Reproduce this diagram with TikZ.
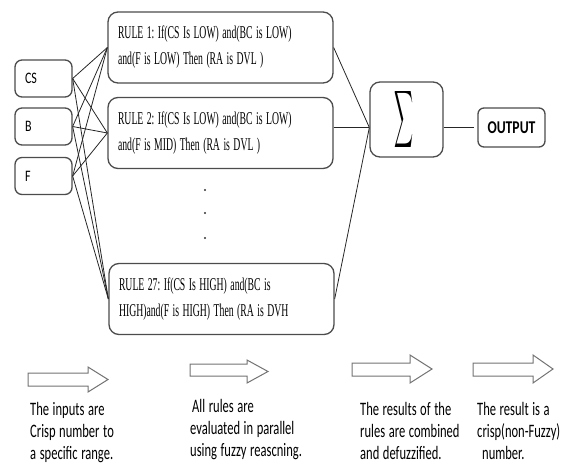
\documentclass[tikz,border=0pt]{standalone}
\usepackage{fontspec}
\usepackage{graphicx}
\newfontfamily\rulefont[FakeStretch=0.54]{Liberation Serif}
\newfontfamily\notefont[FakeStretch=0.66]{Carlito}
\newfontfamily\labfont[FakeStretch=0.75]{Carlito}
\newfontfamily\outfont[FakeStretch=0.76]{Carlito}
\begin{document}
\begin{tikzpicture}[x=1pt,y=-1pt,
  box/.style={draw=black!70,line width=1.3pt,rounded corners=8pt,fill=white},
  inbox/.style={box,rounded corners=7pt,minimum height=37pt,text width=37pt,
    inner xsep=10pt,align=left,font=\labfont\fontsize{16}{18}\selectfont},
  rulebox/.style={box,rounded corners=10pt,text width=205pt,inner xsep=10pt,
    minimum height=71pt,align=left,font=\rulefont\fontsize{18}{26}\selectfont,
    execute at begin node={\spaceskip=3.5pt\relax\xspaceskip=3.5pt\relax}},
  sumbox/.style={box,rounded corners=10pt,minimum width=73pt,minimum height=75pt,inner sep=0pt},
  outbox/.style={box,rounded corners=6pt,minimum width=67pt,minimum height=39pt,
    font=\outfont\bfseries\fontsize{18}{20}\selectfont},
  wire/.style={draw=black!85,line width=0.8pt},
  note/.style={anchor=north west,inner sep=0pt,align=left,
    font=\notefont\fontsize{19}{22}\selectfont,
    execute at begin node={\spaceskip=3.6pt\relax\xspaceskip=3.6pt\relax}},
  blockarrow/.style={draw=black!55,line width=1pt,fill=white,line join=miter}
]
\useasboundingbox (0,0) rectangle (572,471);

% inputs
\node[inbox] (cs) at (43.5,78.5) {CS};
\node[inbox] (b)  at (43.5,126.5) {B};
\node[inbox] (f)  at (43.5,176) {F};

% rule base
\node[rulebox] (r1) at (220.5,47.5) {RULE 1: If(CS Is LOW) and(BC is LOW)\\and(F is LOW) Then (RA is DVL )};
\node[rulebox] (r2) at (220.5,133) {RULE 2: If(CS Is LOW) and(BC is LOW)\\and(F is MID) Then (RA is DVL )};
\node[rulebox] (r27) at (221.5,299) {RULE 27: If(CS Is HIGH) and(BC is\\HIGH)and(F is HIGH) Then (RA is DVH};

% elided rules
\foreach \yy [count=\i] in {190,213,238}
  \fill[black!80] (205,\yy) circle (1.2pt) coordinate (dot\i);

% aggregation and output
\node[sumbox] (sig) at (406.5,119.5) {\hspace*{-5pt}\raisebox{5pt}{\resizebox{19pt}{42pt}{$\displaystyle\sum$}}};
\node[outbox] (out) at (511.5,127.5) {OUTPUT};
\coordinate (j) at (sig.west |- out.west);

% input-to-rule connections
\foreach \src in {cs,b,f}
  \foreach \dst in {r1,r2,r27}
    \draw[wire] (\src.east) -- (\dst.west);

% rule-to-sum connections
\draw[wire] (r1.east) -- (j);
\draw[wire] (r2.east |- j) -- (j);
\draw[wire] (r27.east) -- (j);
\draw[wire] (sig.east |- out.west) -- ([xshift=-3pt]out.west);

% stage arrows
\draw[blockarrow] (28,373) -- (88,373) -- (88,367) -- (108,379.5) -- (88,392) -- (88,386) -- (28,386) -- cycle;
\draw[blockarrow] (190,364) -- (247,364) -- (247,360) -- (268,371.5) -- (247,383) -- (247,376) -- (190,376) -- cycle;
\draw[blockarrow] (352,363) -- (410,363) -- (410,355) -- (432,369) -- (410,383) -- (410,376) -- (352,376) -- cycle;
\draw[blockarrow] (473,363) -- (533,363) -- (533,355) -- (553,369) -- (533,383) -- (533,376) -- (473,376) -- cycle;

% stage descriptions
\node[note] (n1) at (30,402) {The inputs are\\Crisp number to\\a specific range.};
\node[note] (n2) at (190,399) {\hspace*{2pt}All rules are\\evaluated in parallel\\using fuzzy reascning.};
\node[note] (n3) at (360,402) {The results of the\\rules are combined\\and defuzzified.};
\node[note] (n4) at (477,402) {The result is a\\crisp(non-Fuzzy)\\\hspace*{5pt}number.};
\end{tikzpicture}
\end{document}
